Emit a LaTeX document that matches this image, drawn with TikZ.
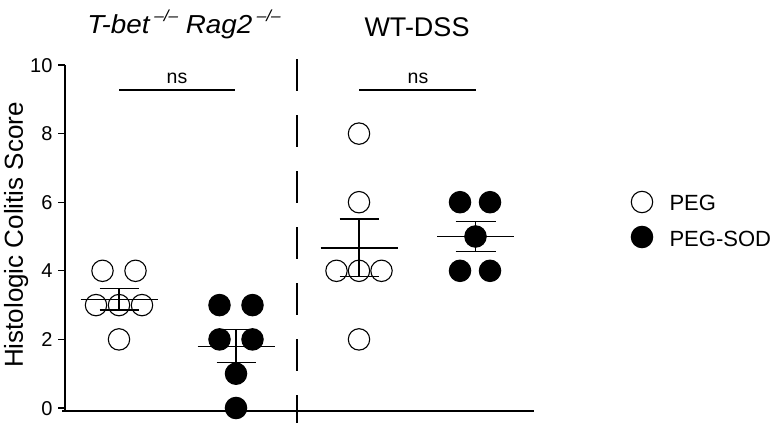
\documentclass[tikz,border=0pt]{standalone}
\usepackage{fontspec}
\setmainfont{Liberation Sans}
\newcommand\yv[1]{408-34.3*(#1)}
\newcommand\supko{\,\raisebox{12.5pt}{\fontsize{16}{18}\selectfont\itshape --/--}}
\begin{document}
\begin{tikzpicture}[x=1pt,y=-1pt,
  openpt/.style={circle,draw=black,line width=1.1pt,minimum size=21.4pt,inner sep=0pt},
  fullpt/.style={circle,draw=black,fill=black,line width=1.1pt,minimum size=21.4pt,inner sep=0pt},
  axisline/.style={line width=1.2pt,black},
  barline/.style={line width=1.2pt,black},
  ticklab/.style={anchor=base east,font=\fontsize{20}{24}\selectfont},
  titlelab/.style={anchor=base,font=\fontsize{27}{32}\selectfont},
  nslab/.style={anchor=base,font=\fontsize{19.5}{23}\selectfont},
  leglab/.style={anchor=base west,font=\fontsize{22}{26}\selectfont}]
\useasboundingbox (0,0) rectangle (777,423);
% axes
\coordinate (ytop) at (65,{\yv{10}});
\coordinate (ybot) at (65,411);
\coordinate (xl) at (62,411);
\coordinate (xr) at (534,411);
\draw[axisline] (ytop) -- (ybot);
\draw[axisline] (xl) -- (xr);
\foreach \v in {0,2,4,6,8,10}{
  \coordinate (tk\v) at (65,{\yv{\v}});
  \draw[axisline] (tk\v) -- ++(-7,0);
  \node[ticklab] (tl\v) at (56,{\yv{\v}+7}) {\v};
}
% divider
\coordinate (dtop) at (297,59);
\coordinate (dbot) at (297,423);
\draw[line width=1.2pt,dash pattern=on 31.5pt off 24.5pt] (dtop) -- (dbot);
% y label
\node[anchor=base,rotate=90,font=\fontsize{26}{31}\selectfont] (ylab) at (23,235) {Histologic Colitis Score};
% titles
\node[anchor=base,font=\fontsize{26}{31}\selectfont\itshape,inner sep=0pt] (t1) at (184,34) {\scalebox{1.07}[1]{T-bet\supko\ Rag2\supko}};
\node[titlelab] (t2) at (417,36) {WT-DSS};
% ns brackets
\coordinate (n1a) at (119,90); \coordinate (n1b) at (235,90);
\draw[line width=1.2pt] (n1a) -- (n1b);
\node[nslab] (ns1) at (177,83) {ns};
\coordinate (n2a) at (359,90); \coordinate (n2b) at (476,90);
\draw[line width=1.2pt] (n2a) -- (n2b);
\node[nslab] (ns2) at (418,83) {ns};
% group 1 mean/sem
\draw[barline] (119-38.5,{\yv{3.167}}) -- (119+38.5,{\yv{3.167}});
\draw[barline] (119,{\yv{3.474}}) -- (119,{\yv{2.860}});
\draw[barline] (119-19.5,{\yv{3.474}}) -- (119+19.5,{\yv{3.474}});
\draw[barline] (119-19.5,{\yv{2.860}}) -- (119+19.5,{\yv{2.860}});
% group 2
\draw[barline] (236-38.5,{\yv{1.80}}) -- (236+38.5,{\yv{1.80}});
\draw[barline] (236,{\yv{2.28}}) -- (236,{\yv{1.32}});
\draw[barline] (236-19.5,{\yv{2.28}}) -- (236+19.5,{\yv{2.28}});
\draw[barline] (236-19.5,{\yv{1.32}}) -- (236+19.5,{\yv{1.32}});
% group 3
\draw[barline] (359-38.5,{\yv{4.667}}) -- (359+38.5,{\yv{4.667}});
\draw[barline] (359,{\yv{5.510}}) -- (359,{\yv{3.824}});
\draw[barline] (359-19.5,{\yv{5.510}}) -- (359+19.5,{\yv{5.510}});
\draw[barline] (359-19.5,{\yv{3.824}}) -- (359+19.5,{\yv{3.824}});
% group 4
\draw[barline] (475.5-38.5,{\yv{5}}) -- (475.5+38.5,{\yv{5}});
\draw[barline] (475.5,{\yv{5.447}}) -- (475.5,{\yv{4.553}});
\draw[barline] (475.5-20,{\yv{5.447}}) -- (475.5+20,{\yv{5.447}});
\draw[barline] (475.5-20,{\yv{4.553}}) -- (475.5+20,{\yv{4.553}});
% group 1 points (PEG)
\node[openpt] (a1) at (102.5,{\yv{4}}) {};
\node[openpt] (a2) at (135.5,{\yv{4}}) {};
\node[openpt] (a3) at (96,{\yv{3}}) {};
\node[openpt] (a4) at (119,{\yv{3}}) {};
\node[openpt] (a5) at (142,{\yv{3}}) {};
\node[openpt] (a6) at (119,{\yv{2}}) {};
% group 2 points (PEG-SOD)
\node[fullpt] (b1) at (219.5,{\yv{3}}) {};
\node[fullpt] (b2) at (252.5,{\yv{3}}) {};
\node[fullpt] (b3) at (219.5,{\yv{2}}) {};
\node[fullpt] (b4) at (252.5,{\yv{2}}) {};
\node[fullpt] (b5) at (236,{\yv{1}}) {};
\node[fullpt] (b6) at (236,{\yv{0}}) {};
% group 3 points
\node[openpt] (c1) at (359,{\yv{8}}) {};
\node[openpt] (c2) at (359,{\yv{6}}) {};
\node[openpt] (c3) at (336.5,{\yv{4}}) {};
\node[openpt] (c4) at (359,{\yv{4}}) {};
\node[openpt] (c5) at (381.5,{\yv{4}}) {};
\node[openpt] (c6) at (359,{\yv{2}}) {};
% group 4 points
\node[fullpt] (d1) at (460,{\yv{6}}) {};
\node[fullpt] (d2) at (490,{\yv{6}}) {};
\node[fullpt] (d3) at (475.5,{\yv{5}}) {};
\node[fullpt] (d4) at (460,{\yv{4}}) {};
\node[fullpt] (d5) at (490,{\yv{4}}) {};
% legend
\node[openpt] (lg1) at (642,202) {};
\node[fullpt] (lg2) at (642,237) {};
\node[leglab] (lt1) at (666,210) {PEG};
\node[leglab] (lt2) at (666,246) {PEG-SOD};
\end{tikzpicture}
\end{document}
